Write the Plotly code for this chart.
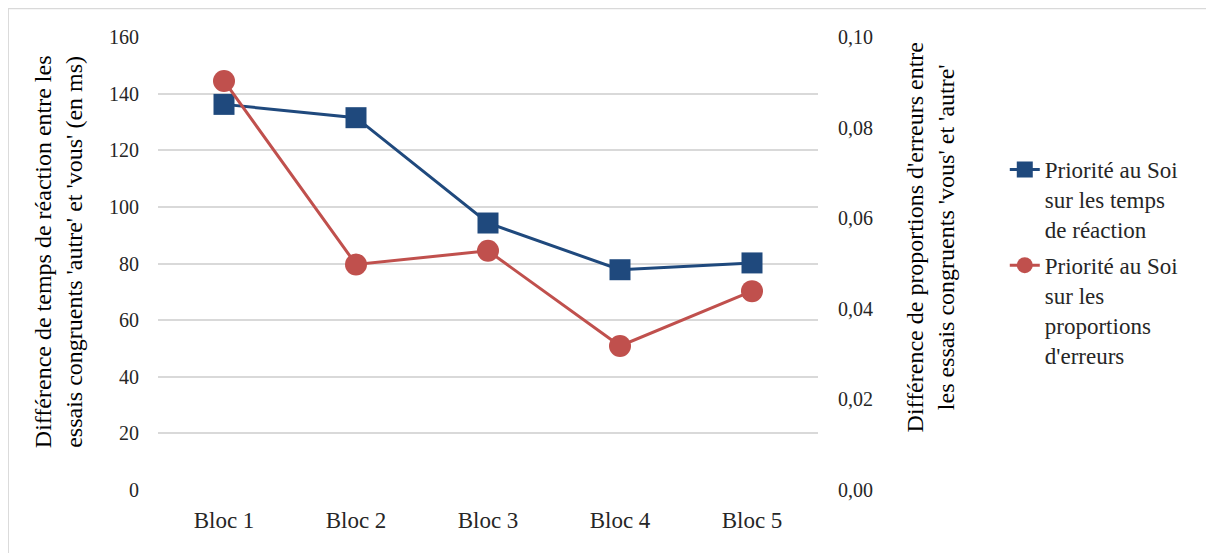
import plotly.graph_objects as go

# ── Data ─────────────────────────────────────────────────────────────────────
blocs = ["Bloc 1", "Bloc 2", "Bloc 3", "Bloc 4", "Bloc 5"]
rt_diff = [136.2, 131.5, 94.3, 77.8, 80.2]          # ms, left axis
err_diff = [0.0903, 0.0498, 0.0528, 0.0318, 0.0439]  # proportions, right axis

left_ticks = [0, 20, 40, 60, 80, 100, 120, 140, 160]
right_ticks = [0.0, 0.02, 0.04, 0.06, 0.08, 0.10]
right_labels = ["0,00", "0,02", "0,04", "0,06", "0,08", "0,10"]

_BLUE = "#1F497D"
_RED = "#C0504D"
_GRID = "#D9D9D9"
_FONT = "Liberation Serif, Times New Roman, serif"
_TXT = "#262626"

fig = go.Figure()
fig.add_trace(go.Scatter(
    x=blocs, y=rt_diff, mode="lines+markers",
    name="Priorité au Soi<br>sur les temps<br>de réaction",
    line=dict(color=_BLUE, width=3),
    marker=dict(symbol="square", size=21, color=_BLUE),
    legendgroup="a",
))
fig.add_trace(go.Scatter(
    x=blocs, y=err_diff, mode="lines+markers", yaxis="y2",
    name="Priorité au Soi<br>sur les<br>proportions<br>d'erreurs",
    line=dict(color=_RED, width=3),
    marker=dict(symbol="circle", size=22, color=_RED),
    legendgroup="b",
))

# axis titles as annotations so they sit where Excel put them
fig.add_annotation(
    text="Différence de temps de réaction entre les<br>essais congruents 'autre' et 'vous' (en ms)",
    xref="paper", yref="paper", x=-0.1515, y=0.525, textangle=-90,
    xanchor="center", yanchor="middle",
    showarrow=False, font=dict(family=_FONT, size=24, color="#000"),
)
fig.add_annotation(
    text="Différence de proportions d'erreurs entre<br>les essais congruents 'vous' et 'autre'",
    xref="paper", yref="paper", x=1.17, y=0.558, textangle=-90,
    xanchor="center", yanchor="middle",
    showarrow=False, font=dict(family=_FONT, size=24, color="#000"),
)

# outer chart border (only top/left fall inside the picture)
fig.add_shape(
    type="rect", xref="paper", yref="paper",
    x0=-0.227, x1=1.7, y0=-0.3, y1=1.063,
    line=dict(color="#D9D9D9", width=1.5), layer="below",
)

fig.update_layout(
    width=1206, height=545,
    margin=dict(l=150, r=396, t=29, b=63),
    paper_bgcolor="white", plot_bgcolor="white",
    font=dict(family=_FONT, color=_TXT),
    xaxis=dict(
        range=[-0.5, 4.5],
        showgrid=False, showline=False, zeroline=False,
        tickfont=dict(family=_FONT, size=23, color=_TXT),
        ticklabelstandoff=14,
    ),
    yaxis=dict(
        range=[0, 160], tickvals=left_ticks,
        gridcolor=_GRID, gridwidth=1.5, zeroline=False, showline=False,
        tickfont=dict(family=_FONT, size=20, color=_TXT),
        ticklabelstandoff=18,
    ),
    yaxis2=dict(
        range=[0, 0.10], tickvals=right_ticks, ticktext=right_labels,
        overlaying="y", side="right", showgrid=False, zeroline=False,
        tickfont=dict(family=_FONT, size=20, color=_TXT),
        ticklabelstandoff=19,
    ),
    legend=dict(
        x=1.283, y=0.755, xanchor="left", yanchor="top",
        font=dict(family=_FONT, size=23, color=_TXT),
        tracegroupgap=3, valign="top",
    ),
)

fig.write_html("out.html")
